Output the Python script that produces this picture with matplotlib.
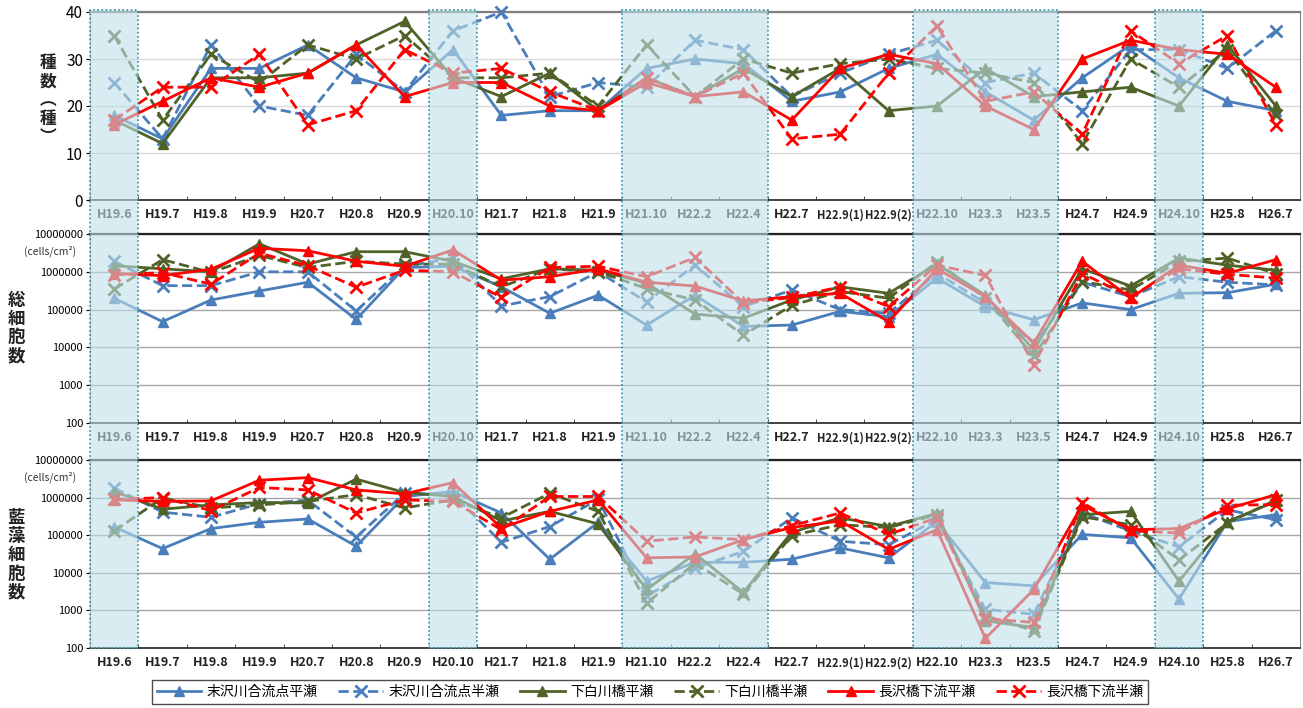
import numpy as np
import matplotlib
matplotlib.use("Agg")
import matplotlib.pyplot as plt
from matplotlib.patches import Rectangle
from matplotlib.transforms import blended_transform_factory

plt.rcParams['font.family'] = ['Noto Sans CJK JP', 'DejaVu Sans']

# 調査時期
periods = ["H19.6", "H19.7", "H19.8", "H19.9", "H20.7", "H20.8", "H20.9", "H20.10",
           "H21.7", "H21.8", "H21.9", "H21.10", "H22.2", "H22.4", "H22.7",
           "H22.9(1)", "H22.9(2)", "H22.10", "H23.3", "H23.5", "H24.7", "H24.9",
           "H24.10", "H25.8", "H26.7"]

# 網掛けする時期 (開始, 終了のインデックス)
shade_spans = [(0, 0), (7, 7), (11, 13), (17, 19), (22, 22)]

series_names = ["末沢川合流点平瀬", "末沢川合流点半瀬", "下白川橋平瀬",
                "下白川橋半瀬", "長沢橋下流平瀬", "長沢橋下流半瀬"]

# 種数
sp_a_hira = [18, 13, 28, 28, 33, 26, 23, 32, 18, 19, 19, 28, 30, 29, 21, 23, 28, 31, 23, 17, 26, 33, 26, 21, 19]
sp_a_han = [25, 13, 33, 20, 18, 31, 23, 36, 40, 22, 25, 24, 34, 32, 22, 27, 31, 34, 25, 27, 19, 32, 32, 28, 36]
sp_b_hira = [17, 12, 26, 26, 27, 33, 38, 26, 22, 27, 19, 26, 22, 28, 22, 28, 19, 20, 28, 22, 23, 24, 20, 33, 20]
sp_b_han = [35, 17, 31, 25, 33, 30, 35, 26, 26, 27, 20, 33, 22, 30, 27, 29, 30, 28, 27, 25, 12, 30, 24, 32, 18]
sp_c_hira = [16, 21, 26, 24, 27, 33, 22, 25, 25, 20, 19, 25, 22, 23, 17, 28, 31, 29, 20, 15, 30, 34, 32, 31, 24]
sp_c_han = [17, 24, 24, 31, 16, 19, 32, 27, 28, 23, 19, 26, 22, 27, 13, 14, 27, 37, 21, 23, 14, 36, 29, 35, 16]

# 総細胞数 (cells/cm2)
tc_a_hira = [2.0e5, 4.8e4, 1.8e5, 3.1e5, 5.3e5, 5.5e4, 1.3e6, 1.4e6, 4.0e5, 8.0e4, 2.4e5, 3.9e4, 2.4e5,
             3.6e4, 3.9e4, 9.0e4, 6.5e4, 6.8e5, 1.2e5, 5.4e4, 1.5e5, 1.0e5, 2.7e5, 2.8e5, 4.7e5]
tc_a_han = [1.9e6, 4.3e5, 4.3e5, 1.0e6, 1.0e6, 9.2e4, 1.4e6, 2.3e6, 1.25e5, 2.2e5, 1.0e6, 1.6e5, 1.5e6,
            1.2e5, 3.3e5, 1.0e5, 8.0e4, 9.1e5, 1.5e5, 1.3e4, 5.3e5, 2.2e5, 7.4e5, 5.3e5, 4.5e5]
tc_b_hira = [1.45e6, 1.2e6, 1.0e6, 5.5e6, 1.6e6, 3.4e6, 3.4e6, 1.9e6, 6.5e5, 1.2e6, 1.1e6, 5.0e5, 7.6e4,
             5.9e4, 1.8e5, 4.0e5, 2.7e5, 1.6e6, 2.4e5, 8.5e3, 1.2e6, 4.2e5, 2.3e6, 1.5e6, 1.1e6]
tc_b_han = [3.5e5, 2.1e6, 9.6e5, 2.7e6, 1.3e6, 1.9e6, 1.6e6, 1.6e6, 4.0e5, 1.2e6, 1.0e6, 3.6e5, 1.8e5,
            2.1e4, 1.3e5, 3.0e5, 2.0e5, 1.8e6, 2.0e5, 5.8e3, 5.5e5, 3.3e5, 1.9e6, 2.3e6, 9.0e5]
tc_c_hira = [9.0e5, 7.9e5, 1.17e6, 4.2e6, 3.6e6, 1.9e6, 1.4e6, 3.8e6, 6.0e5, 7.4e5, 1.2e6, 5.3e5, 4.2e5,
             1.7e5, 2.2e5, 2.7e5, 4.8e4, 1.2e6, 2.2e5, 1.3e4, 1.9e6, 2.0e5, 1.5e6, 9.1e5, 2.1e6]
tc_c_han = [8.3e5, 9.5e5, 4.7e5, 3.1e6, 1.45e6, 3.9e5, 1.1e6, 1.0e6, 2.1e5, 1.3e6, 1.4e6, 7.4e5, 2.4e6,
            1.5e5, 2.1e5, 4.0e5, 1.2e5, 1.5e6, 8.0e5, 3.5e3, 9.0e5, 2.2e5, 1.2e6, 8.6e5, 6.8e5]

# 藍藻細胞数 (cells/cm2)
bg_a_hira = [1.66e5, 4.4e4, 1.5e5, 2.2e5, 2.7e5, 5.1e4, 1.07e6, 1.45e6, 3.9e5, 2.3e4, 2.2e5, 6.0e3, 1.9e4,
             1.9e4, 2.3e4, 4.6e4, 2.5e4, 2.3e5, 5.5e3, 4.5e3, 1.05e5, 8.5e4, 2.0e3, 2.3e5, 3.5e5]
bg_a_han = [1.8e6, 4.1e5, 3.0e5, 6.9e5, 8.5e5, 8.9e4, 1.3e6, 1.2e6, 6.5e4, 1.7e5, 9.0e5, 2.4e3, 1.35e4,
            3.7e4, 2.9e5, 6.9e4, 5.6e4, 2.6e5, 1.07e3, 7.9e2, 3.9e5, 1.3e5, 4.9e4, 4.7e5, 2.6e5]
bg_b_hira = [1.45e6, 4.9e5, 6.4e5, 7.4e5, 7.2e5, 3.1e6, 1.37e6, 1.07e6, 2.4e5, 4.3e5, 2.0e5, 3.6e3, 3.2e4,
             3.0e3, 1.2e5, 2.9e5, 1.7e5, 3.8e5, 5.3e2, 3.5e2, 3.5e5, 4.3e5, 6.0e3, 2.3e5, 7.9e5]
bg_b_han = [1.3e5, 9.8e5, 5.3e5, 6.4e5, 7.9e5, 1.2e6, 5.3e5, 8.7e5, 2.9e5, 1.3e6, 4.3e5, 1.55e3, 1.8e4,
            2.7e3, 9.8e4, 1.9e5, 1.6e5, 3.5e5, 7.2e2, 2.9e2, 3.1e5, 1.9e5, 2.2e4, 2.1e5, 8.7e5]
bg_c_hira = [8.7e5, 7.9e5, 8.2e5, 2.9e6, 3.4e6, 1.6e6, 1.26e6, 2.5e6, 1.56e5, 4.3e5, 8.7e5, 2.5e4, 2.65e4,
             7.6e4, 1.6e5, 2.4e5, 4.2e4, 1.4e5, 1.8e2, 3.6e3, 6.3e5, 1.4e5, 1.5e5, 5.0e5, 1.2e6]
bg_c_han = [9.0e5, 1.0e6, 4.5e5, 1.86e6, 1.6e6, 3.9e5, 8.7e5, 7.9e5, 1.4e5, 1.07e6, 1.07e6, 6.9e4, 9.0e4,
            7.6e4, 1.8e5, 3.9e5, 1.05e5, 2.9e5, 6.0e2, 4.8e2, 7.4e5, 1.3e5, 1.15e5, 6.3e5, 6.5e5]

BLUE = '#4A7EBB'
GREEN = '#4F6228'
RED = '#FF0000'
styles = [(BLUE, '-', '^'), (BLUE, '--', 'x'), (GREEN, '-', '^'),
          (GREEN, '--', 'x'), (RED, '-', '^'), (RED, '--', 'x')]

fig = plt.figure(figsize=(13.03, 7.08), dpi=100)
W, H = 1303, 708
left, right = 90 / W, 1300 / W


def make_axes(top_px, bottom_px):
    return fig.add_axes([left, 1 - bottom_px / H, right - left, (bottom_px - top_px) / H])


ax1 = make_axes(12, 200)
ax2 = make_axes(234, 423)
ax3 = make_axes(460, 648)
x = np.arange(len(periods))


def draw_series(ax, data):
    lines = []
    for vals, (c, ls, mk), name in zip(data, styles, series_names):
        ln, = ax.plot(x, vals, color=c, linestyle=ls, marker=mk, lw=2.0,
                      markersize=8 if mk == 'x' else 7, markeredgewidth=2 if mk == 'x' else 1,
                      label=name, clip_on=False, zorder=3)
        lines.append(ln)
    return lines


def style_axes(ax, grid_color, top_color):
    ax.set_xlim(-0.5, len(periods) - 0.5)
    ax.set_xticks(x)
    ax.set_xticklabels(periods, fontsize=9, fontweight='bold', color='#222222')
    for lab in ax.get_xticklabels():
        if '(' in lab.get_text():
            lab.set_fontsize(8)
    ax.set_xticks(np.arange(-0.5, len(periods), 1.0), minor=True)
    ax.tick_params(axis='x', which='major', length=0, pad=6)
    ax.tick_params(axis='x', which='minor', direction='in', length=3, color='#333333')
    ax.tick_params(axis='y', length=3, pad=2)
    ax.grid(axis='y', color=grid_color, lw=1.0)
    ax.set_axisbelow(True)
    ax.spines['top'].set_color(top_color)
    ax.spines['top'].set_linewidth(1.6)
    ax.spines['right'].set_color('#808080')
    ax.spines['left'].set_color('#808080')
    ax.spines['bottom'].set_color('#222222')
    ax.spines['bottom'].set_linewidth(1.2)


# 種数
handles = draw_series(ax1, [sp_a_hira, sp_a_han, sp_b_hira, sp_b_han, sp_c_hira, sp_c_han])
ax1.set_ylim(0, 40)
ax1.set_yticks([0, 10, 20, 30, 40])
ax1.tick_params(axis='y', labelsize=11)
style_axes(ax1, '#d9d9d9', '#7f7f7f')

# 細胞数 (対数軸)
for ax, data in [(ax2, [tc_a_hira, tc_a_han, tc_b_hira, tc_b_han, tc_c_hira, tc_c_han]),
                 (ax3, [bg_a_hira, bg_a_han, bg_b_hira, bg_b_han, bg_c_hira, bg_c_han])]:
    draw_series(ax, data)
    ax.set_yscale('log')
    ax.set_ylim(100, 1e7)
    ticks = [10 ** k for k in range(2, 8)]
    ax.set_yticks(ticks)
    ax.set_yticklabels([str(t) for t in ticks], fontsize=8)
    ax.minorticks_off()
    style_axes(ax, '#a6a6a6', '#222222')


# 縦書きの軸ラベル
def vlabel(xpx, ypx, chars, size):
    fig.text(xpx / W, 1 - ypx / H, '\n'.join(chars), ha='center', va='center',
             fontsize=size, fontweight='bold', linespacing=1.05, color='#222222')


vlabel(48, 100, ['種', '数', '︵', '種', '︶'], 12)
vlabel(16, 328, ['総', '細', '胞', '数'], 12.5)
vlabel(16, 555, ['藍', '藻', '細', '胞', '数'], 12.5)
fig.text(50 / W, 1 - 251 / H, '(cells/cm²)', ha='center', va='center', fontsize=7.5, color='#333333')
fig.text(50 / W, 1 - 477 / H, '(cells/cm²)', ha='center', va='center', fontsize=7.5, color='#333333')

# 網掛け (3段を通して)
trans = blended_transform_factory(ax1.transData, fig.transFigure)
y0, y1 = 1 - 648 / H, 1 - 10 / H
for s, e in shade_spans:
    fig.add_artist(Rectangle((s - 0.5, y0), e - s + 1, y1 - y0, transform=trans,
                             facecolor='#bfe0e8', alpha=0.6, edgecolor='none', zorder=5))
    fig.add_artist(Rectangle((s - 0.5, y0), e - s + 1, y1 - y0, transform=trans,
                             facecolor='none', edgecolor='#2e8fa3', lw=1.2,
                             linestyle=(0, (1, 1.5)), zorder=6))

leg = fig.legend(handles=handles, loc='center', bbox_to_anchor=(650 / W, 1 - 692 / H),
                 ncol=6, fontsize=10, frameon=True, fancybox=False, handlelength=3.2,
                 columnspacing=1.5, borderpad=0.35, handletextpad=0.4)
leg.get_frame().set_edgecolor('#222222')
leg.get_frame().set_linewidth(1.0)

fig.savefig('out.png', dpi=100)
